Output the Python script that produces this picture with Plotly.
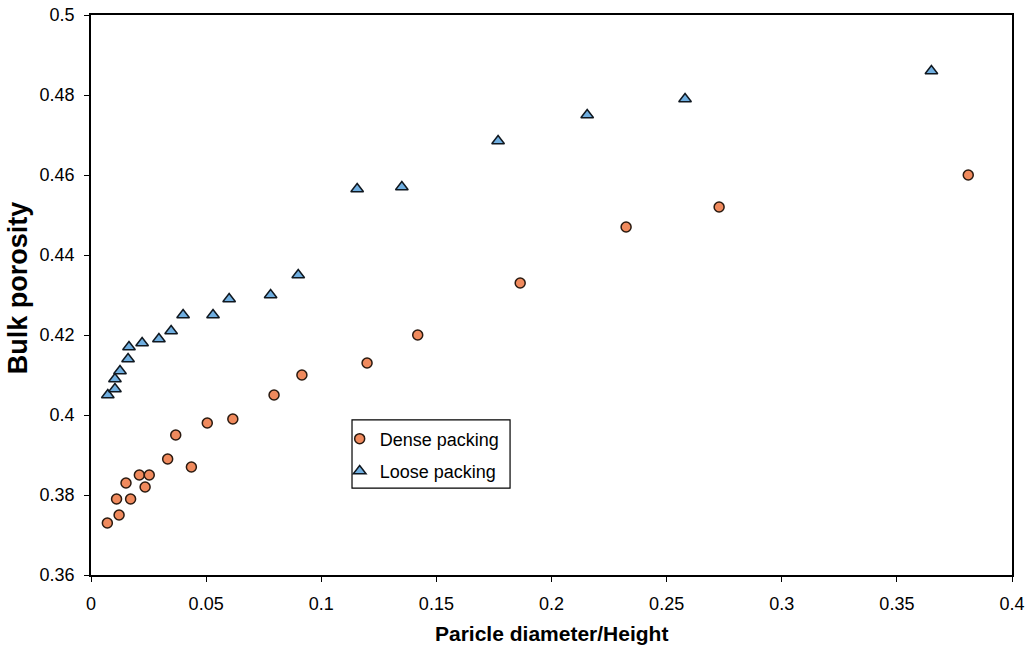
import plotly.graph_objects as go

dense_x = [0.0071, 0.0122, 0.0111, 0.0172, 0.0152, 0.021, 0.0253, 0.0235, 0.0333, 0.0368,
           0.0436, 0.0505, 0.0616, 0.0795, 0.0916, 0.1199, 0.1419, 0.1864, 0.2324, 0.2728, 0.381]
dense_y = [0.373, 0.375, 0.379, 0.379, 0.383, 0.385, 0.385, 0.382, 0.389, 0.395,
           0.387, 0.398, 0.399, 0.405, 0.410, 0.413, 0.420, 0.433, 0.447, 0.452, 0.460]

loose_x = [0.0073, 0.0104, 0.0104, 0.0126, 0.0161, 0.0165, 0.0222, 0.0295, 0.0348, 0.040,
           0.053, 0.060, 0.078, 0.090, 0.1156, 0.135, 0.1768, 0.2155, 0.258, 0.365]
loose_y = [0.405, 0.4065, 0.409, 0.411, 0.414, 0.417, 0.418, 0.419, 0.421, 0.425,
           0.425, 0.429, 0.430, 0.435, 0.4565, 0.457, 0.4685, 0.475, 0.479, 0.486]

x_ticks = [0, 0.05, 0.1, 0.15, 0.2, 0.25, 0.3, 0.35, 0.4]
x_labels = ["0", "0.05", "0.1", "0.15", "0.2", "0.25", "0.3", "0.35", "0.4"]
y_ticks = [0.36, 0.38, 0.4, 0.42, 0.44, 0.46, 0.48, 0.5]
y_labels = ["0.36", "0.38", "0.4", "0.42", "0.44", "0.46", "0.48", "0.5"]

x_title = "Paricle diameter/Height"
y_title = "Bulk porosity"

fig = go.Figure()
fig.add_trace(go.Scatter(
    x=dense_x, y=dense_y, mode="markers", name="Dense packing", legendgroup="dense",
    marker=dict(symbol="circle", size=10, color="#F08A5D",
                line=dict(color="#2a1a10", width=1.5))))
fig.add_trace(go.Scatter(
    x=loose_x, y=loose_y, mode="markers", name="Loose packing", legendgroup="loose",
    marker=dict(symbol="triangle-up", size=11, color="#6FAEE0",
                line=dict(color="#101820", width=1.5))))

font_family = "Liberation Sans, Arial, sans-serif"
axis_common = dict(showgrid=False, zeroline=False, showline=True, linecolor="black",
                   linewidth=1.5, mirror=True, ticks="outside", ticklen=5,
                   tickcolor="black", automargin=False,
                   tickfont=dict(size=18, family=font_family, color="black"))
fig.update_layout(
    width=1030, height=648,
    margin=dict(l=91, r=18, t=15, b=73),
    paper_bgcolor="white", plot_bgcolor="white",
    font=dict(family=font_family, size=16, color="black"),
    showlegend=True,
    legend=dict(x=0.270, y=0.276, xanchor="left", yanchor="top",
                borderwidth=0, bgcolor="rgba(0,0,0,0)",
                font=dict(size=18, family=font_family), itemwidth=30,
                tracegroupgap=6),
    xaxis=dict(range=[0, 0.4], tickvals=x_ticks, ticktext=x_labels,
               ticklabelstandoff=7, **axis_common),
    yaxis=dict(range=[0.36, 0.5], tickvals=y_ticks, ticktext=y_labels,
               ticklabelstandoff=6, **axis_common),
    shapes=[dict(type="rect", xref="paper", yref="paper",
                 x0=0.2834, x1=0.455, y0=0.155, y1=0.277,
                 line=dict(color="black", width=1.2), fillcolor="rgba(0,0,0,0)",
                 layer="below")],
    annotations=[
        dict(text="<b>" + x_title + "</b>", xref="paper", yref="paper",
             x=0.5, y=0, xanchor="center", yanchor="middle", yshift=-58,
             showarrow=False, font=dict(size=21, family=font_family)),
        dict(text="<b>" + y_title + "</b>", xref="paper", yref="paper",
             x=0, y=0.512, xanchor="center", yanchor="middle", xshift=-73,
             textangle=-90, showarrow=False, font=dict(size=27, family=font_family)),
    ],
)

fig.write_html("out.html", config={"displayModeBar": False},
               post_script="document.body.style.margin='0';")
